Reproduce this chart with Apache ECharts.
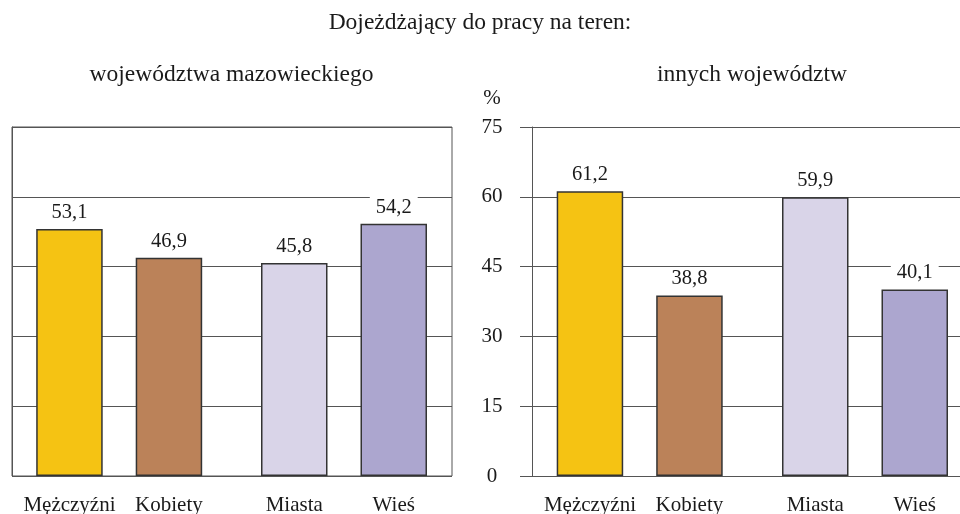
<!DOCTYPE html>
<html>
<head>
<meta charset="utf-8">
<script src="https://cdn.jsdelivr.net/npm/echarts@6/dist/echarts.min.js"></script>
<style>
html, body { margin: 0; padding: 0; background: #fff; }
#main { width: 960px; height: 514px; }
</style>
</head>
<body>
<div id="main"></div>
<script>
// dane
var sexNames = ['Mężczyźni', 'Kobiety'];
var placeNames = ['Miasta', 'Wieś'];
var mazSex = [53.1, 46.9];
var mazPlace = [45.8, 54.2];
var otherSex = [61.2, 38.8];
var otherPlace = [59.9, 40.1];
var sexColors = ['#F5C313', '#BB8259'];
var placeColors = ['#D9D4E8', '#ACA6CF'];
var yMin = 0, yMax = 75, yStep = 15;

var FONT = 'Liberation Serif';
var TOP = 127, BOTTOM = 38;

function fmt(v) { return v.toFixed(1).replace('.', ','); }

function barGrid(left) {
	return { left: left, width: 199, top: TOP, bottom: BOTTOM, show: false, outerBoundsMode: 'none' };
}

function barX(idx, names) {
	return {
		type: 'category', gridIndex: idx, data: names,
		axisLine: { show: false }, axisTick: { show: false },
		axisLabel: { fontFamily: FONT, fontSize: 21, color: '#1a1a1a', margin: 19, interval: 0, hideOverlap: false }
	};
}

function barY(idx) {
	return { type: 'value', gridIndex: idx, min: yMin, max: yMax, interval: yStep, show: false, splitLine: { show: false } };
}

function barSeries(idx, values, colors) {
	return {
		type: 'bar', xAxisIndex: idx, yAxisIndex: idx,
		barWidth: 66.5,
		data: values.map(function (v, i) {
			return { value: v, itemStyle: { color: colors[i] } };
		}),
		itemStyle: { borderColor: '#333', borderWidth: 1.5 },
		label: {
			show: true, position: 'top', distance: 5,
			fontFamily: FONT, fontSize: 20.5, color: '#1a1a1a',
			backgroundColor: '#fff', padding: [1, 6],
			formatter: function (p) { return fmt(p.value); }
		},
		z: 3
	};
}

var option = {
	backgroundColor: '#fff',
	animation: false,
	graphic: [
		{ type: 'text', x: 480, y: 23, style: { text: 'Dojeżdżający do pracy na teren:', font: '23.5px "Liberation Serif"', fill: '#1a1a1a', textAlign: 'center', textVerticalAlign: 'middle' } },
		{ type: 'text', x: 231.5, y: 75, style: { text: 'województwa mazowieckiego', font: '23.5px "Liberation Serif"', fill: '#1a1a1a', textAlign: 'center', textVerticalAlign: 'middle' } },
		{ type: 'text', x: 752, y: 75, style: { text: 'innych województw', font: '23.5px "Liberation Serif"', fill: '#1a1a1a', textAlign: 'center', textVerticalAlign: 'middle' } },
		{ type: 'text', x: 492, y: 98, style: { text: '%', font: '21px "Liberation Serif"', fill: '#1a1a1a', textAlign: 'center', textVerticalAlign: 'middle' } }
	],
	grid: [
		// ramki paneli
		{ left: 12, width: 440, top: TOP, bottom: BOTTOM, show: true, borderColor: '#555', borderWidth: 1, outerBoundsMode: 'none' },
		{ left: 532, width: 440, top: TOP, bottom: BOTTOM, show: false, outerBoundsMode: 'none' },
		// słupki
		barGrid(19.7), barGrid(244.5), barGrid(540.2), barGrid(765.5)
	],
	xAxis: [
		{ type: 'value', gridIndex: 0, show: false, splitLine: { show: false } },
		{ type: 'value', gridIndex: 1, show: false, splitLine: { show: false } },
		barX(2, sexNames), barX(3, placeNames), barX(4, sexNames), barX(5, placeNames)
	],
	yAxis: [
		{
			type: 'value', gridIndex: 0, position: 'right', min: yMin, max: yMax, interval: yStep,
			axisLine: { show: true, lineStyle: { color: '#555', width: 1 } },
			axisTick: { show: true, inside: false, length: 11, lineStyle: { color: '#555', width: 1 } },
			axisLabel: { fontFamily: FONT, fontSize: 21, color: '#1a1a1a', align: 'center', margin: 40 },
			splitLine: { show: true, lineStyle: { color: '#555', width: 1 } }
		},
		{
			type: 'value', gridIndex: 1, position: 'left', min: yMin, max: yMax, interval: yStep,
			axisLine: { show: true, lineStyle: { color: '#555', width: 1 } },
			axisTick: { show: true, inside: false, length: 12, lineStyle: { color: '#555', width: 1 } },
			axisLabel: { show: false },
			splitLine: { show: true, lineStyle: { color: '#555', width: 1 } }
		},
		barY(2), barY(3), barY(4), barY(5)
	],
	series: [
		barSeries(2, mazSex, sexColors),
		barSeries(3, mazPlace, placeColors),
		barSeries(4, otherSex, sexColors),
		barSeries(5, otherPlace, placeColors)
	]
};

var chart = echarts.init(document.getElementById('main'), null, { renderer: 'canvas' });
chart.setOption(option);
</script>
</body>
</html>
